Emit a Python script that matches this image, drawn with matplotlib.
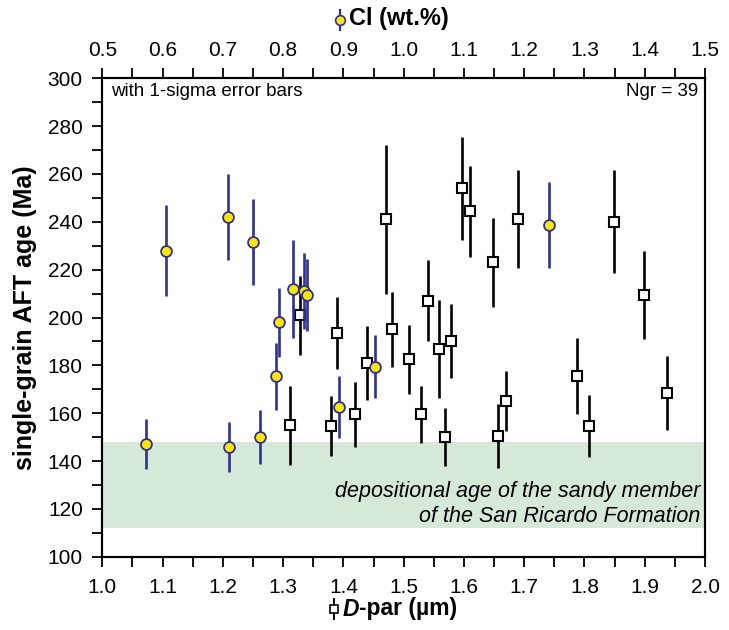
import numpy as np
import matplotlib
matplotlib.use('Agg')
from matplotlib import pyplot as plt
from matplotlib.lines import Line2D
from matplotlib.ticker import MultipleLocator

plt.rcParams['font.family'] = ['Liberation Sans', 'DejaVu Sans']

# D-par grains (bottom axis): D-par (um), age (Ma), 1-sigma (Ma)
dpar = [1.470, 1.328, 1.390, 1.480, 1.311, 1.379, 1.420, 1.439, 1.509, 1.529,
        1.540, 1.559, 1.579, 1.569, 1.597, 1.610, 1.648, 1.689, 1.657, 1.669,
        1.849, 1.898, 1.788, 1.808, 1.937]
dpar_age = [241, 201, 193.5, 195, 155, 154.5, 159.5, 181, 182.5, 159.5,
            207, 187, 190, 150, 254, 244.5, 223, 241, 150.5, 165,
            240, 209.5, 175.5, 154.5, 168.5]
dpar_err = [31, 16.5, 15, 15.5, 16.5, 12.5, 13.5, 15.5, 14.5, 12,
            17, 20.5, 15.5, 12, 21.5, 19, 18.5, 20.5, 13.5, 12.5,
            21.5, 18.5, 16, 13, 15.5]

# Cl grains (top axis): Cl (wt.%), age (Ma), 1-sigma (Ma)
cl = [0.606, 0.709, 0.750, 0.816, 0.834, 0.839, 0.794, 0.789, 0.573, 0.711,
      0.762, 0.892, 0.952, 1.241]
cl_age = [228, 242, 231.5, 212, 211, 209.5, 198, 175.5, 147, 146,
          150, 162.5, 179.5, 238.5]
cl_err = [19, 18, 18, 20.5, 16, 15, 14.5, 14, 10.5, 10.5,
          11.3, 13, 13, 18]

# depositional age band (Ma)
band_low, band_high = 112, 148

navy = '#2e3192'
yellow = '#ffe600'
band_color = '#d6e9d9'

W, H = 729, 630
fig = plt.figure(figsize=(W / 100, H / 100), dpi=100)
ax = fig.add_axes([102.3 / W, 1 - 556.7 / H, (705 - 102.3) / W, (556.7 - 78.3) / H])

ax.axhspan(band_low, band_high, color=band_color, lw=0, zorder=0)

ax.errorbar(dpar, dpar_age, yerr=dpar_err, fmt='s', ms=7.8, mfc='white',
            mec='black', mew=1.5, ecolor='black', elinewidth=1.9, capsize=0,
            zorder=3)

ax.set_xlim(1.0, 2.0)
ax.set_ylim(100, 300)
ax.xaxis.set_major_locator(MultipleLocator(0.1))
ax.xaxis.set_minor_locator(MultipleLocator(0.05))
ax.yaxis.set_major_locator(MultipleLocator(20))
ax.yaxis.set_minor_locator(MultipleLocator(10))
ax.xaxis.set_major_formatter(plt.FormatStrFormatter('%.1f'))
ax.tick_params(which='both', direction='out', length=7, width=1.3,
               labelsize=15, top=False, right=False)
ax.tick_params(axis='x', pad=8)
ax.tick_params(axis='y', pad=7)
for s in ax.spines.values():
    s.set_linewidth(1.5)

ax2 = ax.twiny()
ax2.errorbar(cl, cl_age, yerr=cl_err, fmt='o', ms=7.8, mfc=yellow,
             mec=navy, mew=1.3, ecolor=navy, elinewidth=1.9, capsize=0,
             zorder=3)
ax2.set_xlim(0.5, 1.5)
ax2.xaxis.set_major_locator(MultipleLocator(0.1))
ax2.xaxis.set_minor_locator(MultipleLocator(0.05))
ax2.xaxis.set_major_formatter(plt.FormatStrFormatter('%.1f'))
ax2.tick_params(which='both', direction='out', length=7, width=1.3,
                labelsize=15, pad=6)
for s in ax2.spines.values():
    s.set_linewidth(1.5)

ax.set_ylabel('single-grain AFT age (Ma)', fontsize=18, fontweight='bold',
              labelpad=8)

# texts inside the plot
fig.text(111 / W, 1 - 91 / H, 'with 1-sigma error bars', fontsize=13.5,
         ha='left', va='center')
fig.text(698 / W, 1 - 92 / H, 'Ngr = 39', fontsize=13.5, ha='right', va='center')
fig.text(700 / W, 1 - 492 / H, 'depositional age of the sandy member',
         fontsize=15.5, style='italic', ha='right', va='center')
fig.text(700 / W, 1 - 517 / H, 'of the San Ricardo Formation',
         fontsize=15.5, style='italic', ha='right', va='center')

# top axis title with symbol
fig.add_artist(Line2D([340 / W, 340 / W], [1 - 10 / H, 1 - 30 / H],
                      color=navy, lw=1.6))
fig.add_artist(Line2D([340 / W], [1 - 20 / H], marker='o', ms=7,
                      mfc=yellow, mec=navy, mew=1.2))
fig.text(349 / W, 1 - 19 / H, 'Cl (wt.%)', fontsize=17, fontweight='bold',
         ha='left', va='center')

# bottom axis title with symbol
fig.add_artist(Line2D([334 / W, 334 / W], [1 - 599 / H, 1 - 619 / H],
                      color='black', lw=1.4))
fig.add_artist(Line2D([334 / W], [1 - 609 / H], marker='s', ms=6,
                      mfc='white', mec='black', mew=1.2))
fig.text(359 / W, 1 - 609 / H, 'D', fontsize=16.5, fontweight='bold',
         style='italic', ha='right', va='center')
fig.text(359 / W, 1 - 609 / H, '-par (µm)', fontsize=16.5, fontweight='bold',
         ha='left', va='center')

fig.savefig('out.png', dpi=100)
